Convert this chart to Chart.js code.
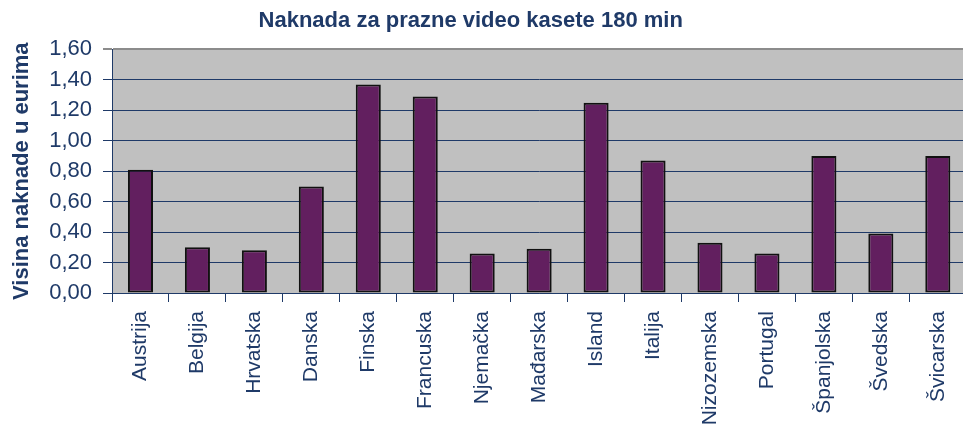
<!DOCTYPE html>
<html>
<head>
<meta charset="utf-8">
<script src="https://cdn.jsdelivr.net/npm/chart.js@4.4.1/dist/chart.umd.min.js"></script>
<style>
	html, body { margin: 0; padding: 0; background: #ffffff; overflow: hidden; }
	#wrap { width: 972px; height: 425px; }
</style>
</head>
<body>
<div id="wrap"><canvas id="myBarChart"></canvas></div>
<script>
// 국가 목록 (x축)
var countries = ['Austrija', 'Belgija', 'Hrvatska', 'Danska', 'Finska', 'Francuska', 'Njemačka', 'Mađarska',
	'Island', 'Italija', 'Nizozemska', 'Portugal', 'Španjolska', 'Švedska', 'Švicarska'];
// naknada u eurima (y축)
var fees = [0.81, 0.30, 0.28, 0.70, 1.37, 1.29, 0.26, 0.29, 1.25, 0.87, 0.33, 0.26, 0.90, 0.39, 0.90];
// y축 눈금
var yMin = 0;
var yMax = 1.6;
var yStep = 0.2;

var navy = '#1f3a68';

// 플롯 영역 회색 배경
var plotBg = {
	id: 'plotBg',
	beforeDraw: function(chart) {
		var a = chart.chartArea;
		var ctx = chart.ctx;
		ctx.save();
		ctx.fillStyle = '#c0c0c0';
		ctx.fillRect(a.left, a.top, a.right - a.left, a.bottom - a.top);
		ctx.restore();
	}
};

var ctx = document.getElementById('myBarChart').getContext('2d');
window.myBarChart = new Chart(ctx, {
	type: 'bar',
	data: {
		labels: countries,
		datasets: [{
			data: fees,
			backgroundColor: '#621f5f',
			borderColor: '#111111',
			borderWidth: 2,
			borderSkipped: false,
			categoryPercentage: 1,
			barPercentage: 0.44
		}]
	},
	options: {
		responsive: true,
		maintainAspectRatio: false,
		animation: false,
		layout: { padding: { left: 0, right: 0, top: 0, bottom: 0 } },
		plugins: {
			legend: { display: false },
			tooltip: { enabled: false },
			title: {
				display: true,
				// 오른쪽 공백으로 제목을 약간 왼쪽으로 이동
				text: 'Naknada za prazne video kasete 180 min\u00a0\u00a0\u00a0\u00a0\u00a0',
				color: navy,
				font: { family: "'Liberation Sans', Arial, sans-serif", size: 22, weight: 'bold', lineHeight: 1.2 },
				padding: { top: 8, bottom: 15 }
			}
		},
		scales: {
			x: {
				offset: true,
				grid: {
					offset: true,
					drawOnChartArea: false,
					drawTicks: true,
					tickLength: 9,
					color: navy
				},
				border: { display: true, color: navy, width: 1 },
				ticks: {
					color: navy,
					font: { family: "'Liberation Sans', Arial, sans-serif", size: 21 },
					maxRotation: 90,
					minRotation: 90,
					autoSkip: false,
					padding: 9
				},
				afterFit: function(scale) { scale.height = 132; }
			},
			y: {
				min: yMin,
				max: yMax,
				grid: {
					drawOnChartArea: true,
					drawTicks: true,
					tickLength: 9,
					color: function(c) { return c.tick && c.tick.value >= yMax ? '#8c8c8c' : navy; },
					lineWidth: function(c) { return c.tick && c.tick.value >= yMax ? 2 : 1; }
				},
				border: { display: true, color: navy, width: 1 },
				ticks: {
					stepSize: yStep,
					color: navy,
					font: { family: "'Liberation Sans', Arial, sans-serif", size: 22 },
					padding: 11,
					callback: function(v) { return Number(v).toFixed(2).replace('.', ','); }
				},
				title: {
					display: true,
					text: 'Visina naknade u eurima',
					color: navy,
					font: { family: "'Liberation Sans', Arial, sans-serif", size: 22, weight: 'bold', lineHeight: 1 },
					padding: { top: 11, bottom: 0 }
				},
				afterFit: function(scale) { scale.width = 112; }
			}
		}
	},
	plugins: [plotBg]
});
</script>
</body>
</html>
